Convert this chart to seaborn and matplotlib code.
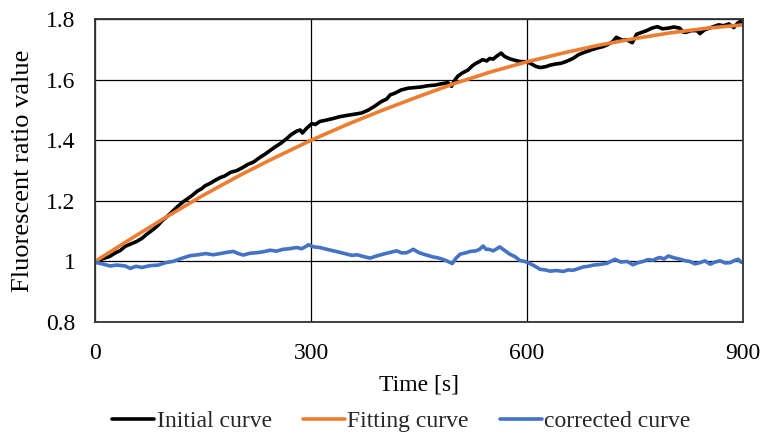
import numpy as np
import pandas as pd
import matplotlib
matplotlib.use("Agg")
import matplotlib.pyplot as plt
import seaborn as sns

# ---- data ----
initial_t = [0, 5, 12, 20, 28, 35, 42, 50, 58, 65, 72, 80, 87, 93, 100, 108, 116, 122, 128, 135,
             142, 148, 153, 160, 167, 174, 180, 188, 197, 205, 212, 220, 228, 236, 243, 250, 258, 266,
             272, 280, 285, 288, 294, 301, 306, 312, 320, 331, 340, 352, 360, 370, 379, 388, 397, 405,
             410, 416, 425, 435, 444, 453, 462, 472, 480, 490, 495, 500, 504, 510, 518, 524, 529, 534,
             538, 544, 548, 553, 558, 564, 568, 571, 577, 583, 590, 600, 606, 612, 618, 626, 632, 640,
             647, 654, 660, 665, 671, 677, 684, 691, 698, 705, 712, 719, 724, 727, 733, 738, 746, 752,
             759, 766, 773, 781, 788, 796, 804, 812, 816, 820, 828, 836, 840, 846, 855, 866, 873, 880,
             887, 892, 896, 900]
initial_v = [1.000, 1.004, 1.010, 1.016, 1.028, 1.036, 1.050, 1.058, 1.066, 1.076, 1.090, 1.104, 1.118,
             1.134, 1.148, 1.166, 1.184, 1.196, 1.206, 1.218, 1.232, 1.240, 1.250, 1.258, 1.268, 1.277,
             1.282, 1.294, 1.300, 1.310, 1.320, 1.328, 1.342, 1.354, 1.366, 1.378, 1.390, 1.405, 1.418,
             1.430, 1.434, 1.424, 1.440, 1.455, 1.452, 1.462, 1.466, 1.472, 1.478, 1.483, 1.486, 1.490,
             1.499, 1.512, 1.527, 1.536, 1.550, 1.555, 1.566, 1.572, 1.574, 1.576, 1.580, 1.582, 1.586,
             1.590, 1.578, 1.600, 1.612, 1.622, 1.632, 1.646, 1.654, 1.660, 1.666, 1.662, 1.670, 1.668,
             1.678, 1.688, 1.678, 1.674, 1.668, 1.664, 1.660, 1.659, 1.652, 1.644, 1.640, 1.643, 1.648,
             1.652, 1.654, 1.660, 1.666, 1.672, 1.682, 1.688, 1.694, 1.700, 1.705, 1.709, 1.716, 1.726,
             1.740, 1.736, 1.730, 1.732, 1.722, 1.750, 1.756, 1.762, 1.770, 1.775, 1.768, 1.770, 1.774,
             1.770, 1.758, 1.756, 1.762, 1.762, 1.752, 1.764, 1.772, 1.781, 1.778, 1.784, 1.772, 1.786,
             1.792, 1.782]

fitting_t = [0, 50, 100, 150, 200, 250, 300, 350, 400, 450, 500, 550, 600, 650, 700, 750, 800, 850, 900]
fitting_v = [1.000, 1.075, 1.148, 1.218, 1.283, 1.343, 1.400, 1.452, 1.500, 1.545, 1.588, 1.626, 1.659,
             1.688, 1.714, 1.736, 1.755, 1.770, 1.781]

corrected_t = [0, 2, 10, 21, 30, 42, 49, 57, 65, 76, 88, 98, 108, 120, 132, 143, 154, 164, 174, 183,
               192, 199, 206, 215, 225, 234, 243, 252, 261, 270, 280, 287, 294, 296, 304, 312, 322, 331,
               340, 350, 357, 364, 373, 382, 391, 400, 410, 419, 426, 433, 442, 449, 456, 462, 469, 476,
               483, 490, 496, 501, 507, 514, 521, 529, 534, 539, 543, 547, 553, 558, 562, 569, 576, 583,
               590, 597, 604, 611, 618, 625, 632, 641, 650, 657, 664, 671, 678, 685, 692, 701, 711, 716,
               722, 730, 739, 747, 754, 761, 768, 775, 780, 785, 790, 796, 804, 813, 820, 826, 833, 840,
               847, 854, 861, 868, 875, 882, 888, 893, 897, 900]
corrected_v = [1.000, 0.996, 0.992, 0.985, 0.988, 0.985, 0.977, 0.984, 0.980, 0.986, 0.988, 0.996, 1.000,
               1.010, 1.019, 1.022, 1.026, 1.022, 1.026, 1.030, 1.033, 1.026, 1.021, 1.027, 1.029, 1.032,
               1.037, 1.034, 1.040, 1.042, 1.046, 1.042, 1.051, 1.055, 1.048, 1.046, 1.040, 1.035, 1.030,
               1.024, 1.020, 1.022, 1.016, 1.011, 1.018, 1.024, 1.030, 1.035, 1.028, 1.029, 1.040, 1.030,
               1.024, 1.020, 1.015, 1.012, 1.007, 1.000, 0.993, 1.010, 1.024, 1.028, 1.033, 1.035, 1.040,
               1.051, 1.040, 1.040, 1.035, 1.042, 1.048, 1.036, 1.024, 1.016, 1.003, 1.000, 0.993, 0.984,
               0.974, 0.972, 0.968, 0.970, 0.967, 0.972, 0.971, 0.976, 0.982, 0.984, 0.988, 0.990, 0.994,
               1.000, 1.007, 0.998, 1.000, 0.989, 0.996, 1.000, 1.006, 1.004, 1.010, 1.013, 1.008, 1.018,
               1.012, 1.007, 1.002, 1.000, 0.992, 0.996, 1.002, 0.991, 0.998, 1.002, 0.995, 0.996, 1.003,
               1.007, 0.998, 0.996]

x_ticks = [0, 300, 600, 900]
y_ticks = [0.8, 1.0, 1.2, 1.4, 1.6, 1.8]
series_names = ["Initial curve", "Fitting curve", "corrected curve"]
series_colors = ["#000000", "#ED7D31", "#4472C4"]

# ---- plotting ----
sns.set_theme(style="white")
plt.rcParams["font.family"] = ["Liberation Serif", "DejaVu Serif"]
plt.rcParams["font.size"] = 17

fig, ax = plt.subplots(figsize=(7.63, 4.34), dpi=100)
fig.subplots_adjust(left=0.1245, right=0.974, top=0.956, bottom=0.258)

sns.lineplot(x=initial_t, y=initial_v, ax=ax, color=series_colors[0], linewidth=2.6,
             label=series_names[0], estimator=None, sort=False)
sns.lineplot(x=fitting_t, y=fitting_v, ax=ax, color=series_colors[1], linewidth=2.6,
             label=series_names[1], estimator=None, sort=False)
sns.lineplot(x=corrected_t, y=corrected_v, ax=ax, color=series_colors[2], linewidth=2.6,
             label=series_names[2], estimator=None, sort=False)

ax.set_xlim(0, 900)
ax.set_ylim(0.8, 1.8)
ax.set_xticks(x_ticks)
ax.set_yticks(y_ticks)
ax.set_xticklabels([str(t) for t in x_ticks])
ax.set_yticklabels([f"{v:g}" for v in y_ticks])
ax.tick_params(axis="both", length=0, labelsize=17, colors="black")
ax.tick_params(axis="y", pad=14)
ax.tick_params(axis="x", pad=15)
ax.grid(True, color="black", linewidth=0.9)
ax.set_axisbelow(True)
for s in ax.spines.values():
    s.set_color("#333333")
    s.set_linewidth(1.3)

ax.set_xlabel("Time [s]", fontsize=17, color="black", labelpad=8)
ax.set_ylabel("Fluorescent ratio value", fontsize=19, color="black", labelpad=9)

ax.legend(loc="lower center", bbox_to_anchor=(0.526, -0.018), bbox_transform=fig.transFigure,
          ncol=3, frameon=False, fontsize=17, handlelength=1.8, handletextpad=0.1,
          columnspacing=1.3, borderaxespad=0)

fig.savefig("out.png", dpi=100)
